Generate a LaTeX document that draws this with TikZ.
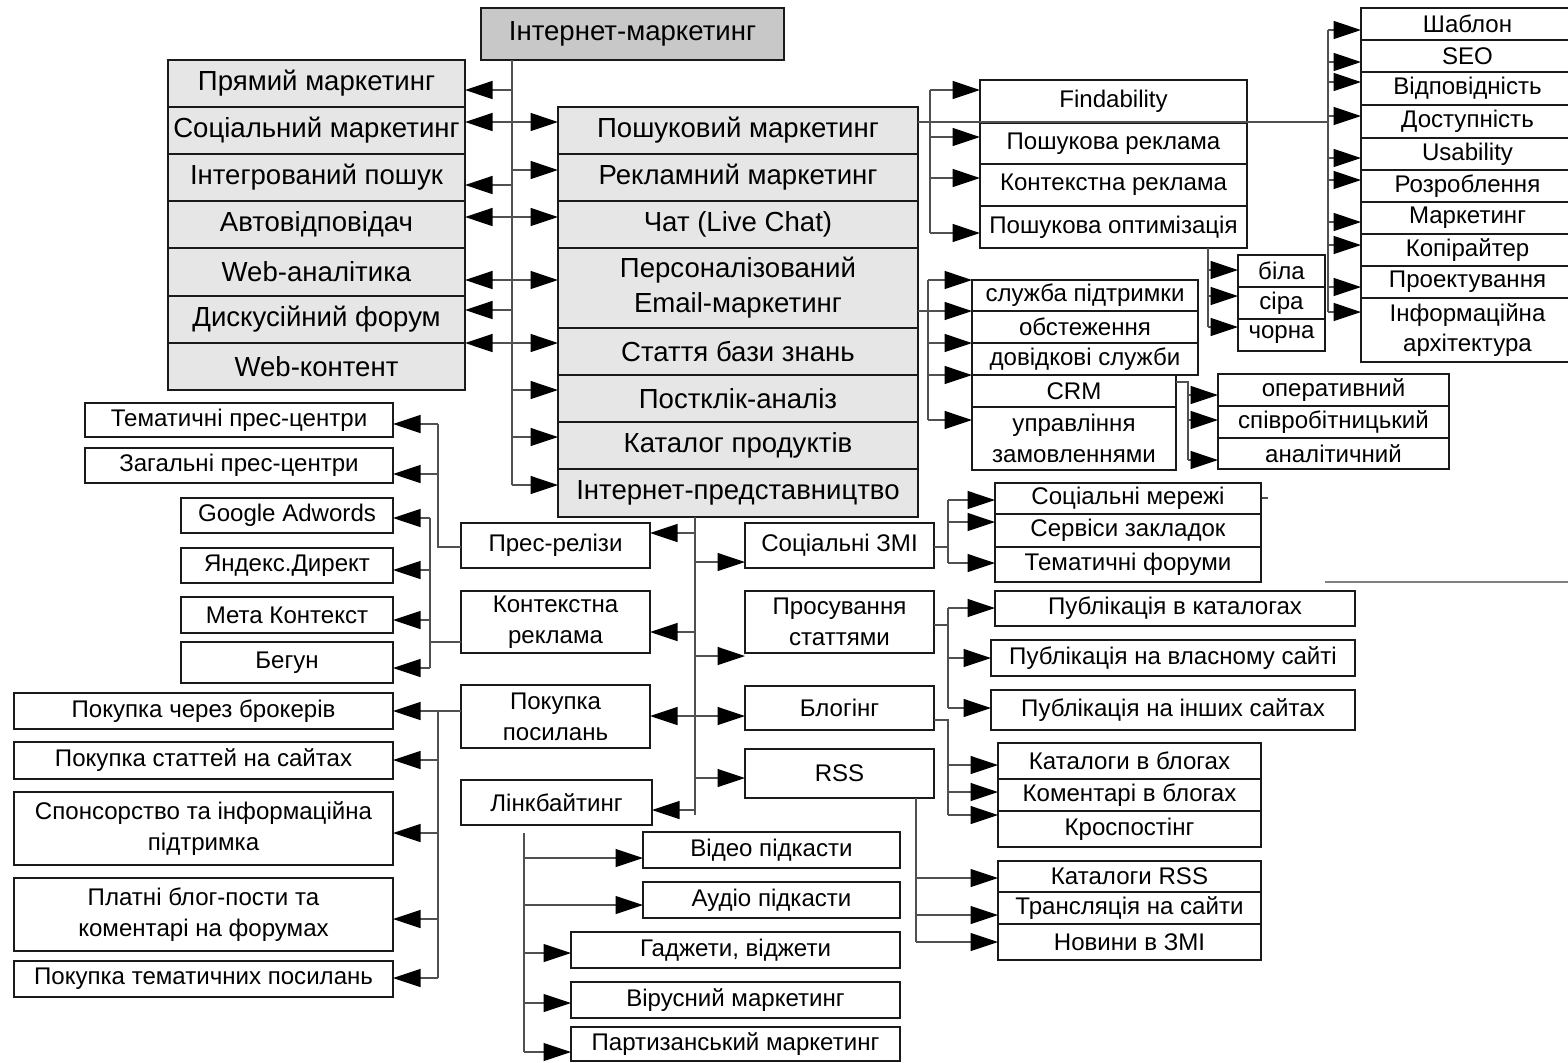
\documentclass[tikz,border=0pt]{standalone}
\usepackage{fontspec}
\setmainfont{Liberation Sans}
\usetikzlibrary{arrows.meta,calc}
\definecolor{boxgray}{HTML}{E6E6E6}
\definecolor{topgray}{HTML}{C8C8C8}
\definecolor{ink}{HTML}{1A1A1A}
\definecolor{wiregray}{HTML}{505050}
\tikzset{
  cell/.style={draw=ink,fill=white,line width=0.8pt,inner sep=0pt,outer sep=0pt,
               align=center,font=\fontsize{13.7}{17.5}\selectfont},
  bigcell/.style={cell,fill=boxgray,font=\fontsize{15.7}{20}\selectfont},
  topcell/.style={bigcell,fill=topgray},
  wire/.style={draw=wiregray,line width=0.75pt},
  arr/.style={wire,-{Triangle[length=0.55cm,width=0.36cm,color=black]}}
}
% [style]{name}{x1}{y1}{x2}{y2}{text}, pixel units
\newcommand{\cellat}[7][cell]{%
  \node[#1,minimum width={(#5-#3)*0.02cm},minimum height={(#6-#4)*0.02cm}]
    (#2) at ({(#3+#5)/2},{(#4+#6)/2}) {#7};}

\begin{document}
\begin{tikzpicture}[x=0.02cm,y=-0.02cm]
  \useasboundingbox (0,0) rectangle (1568,1062);
  % top and two main columns
  \cellat[topcell]{top}{481}{8}{784}{60}{Інтернет-маркетинг}
  \cellat[bigcell]{pm}{168}{60}{465}{107}{Прямий маркетинг}
  \cellat[bigcell]{sm}{168}{107}{465}{154}{Соціальний маркетинг}
  \cellat[bigcell]{ip}{168}{154}{465}{201}{Інтегрований пошук}
  \cellat[bigcell]{av}{168}{201}{465}{248}{Автовідповідач}
  \cellat[bigcell]{wa}{168}{248}{465}{296}{Web-аналітика}
  \cellat[bigcell]{df}{168}{296}{465}{343}{Дискусійний форум}
  \cellat[bigcell]{wc}{168}{343}{465}{390}{Web-контент}
  \cellat[bigcell]{psm}{558}{107}{918}{154}{Пошуковий маркетинг}
  \cellat[bigcell]{rm}{558}{154}{918}{201}{Рекламний маркетинг}
  \cellat[bigcell]{chat}{558}{201}{918}{248}{Чат (Live Chat)}
  \cellat[bigcell]{em}{558}{248}{918}{328}{Персоналізований\\Email-маркетинг}
  \cellat[bigcell]{kb}{558}{328}{918}{375}{Стаття бази знань}
  \cellat[bigcell]{pc}{558}{375}{918}{422}{Постклік-аналіз}
  \cellat[bigcell]{cat}{558}{422}{918}{469}{Каталог продуктів}
  \cellat[bigcell]{net}{558}{469}{918}{517}{Інтернет-представництво}
  % search marketing
  \cellat{fnd}{980}{80}{1247}{123}{Findability}
  \cellat{pr}{980}{123}{1247}{164}{Пошукова реклама}
  \cellat{kr}{980}{164}{1247}{206}{Контекстна реклама}
  \cellat{po}{980}{206}{1247}{248}{Пошукова оптимізація}
  \cellat{shab}{1361}{8}{1574}{40}{Шаблон}
  \cellat{seo}{1361}{40}{1574}{72}{SEO}
  \cellat{vid}{1361}{72}{1574}{105}{Відповідність}
  \cellat{dost}{1361}{105}{1574}{138}{Доступність}
  \cellat{usab}{1361}{138}{1574}{170}{Usability}
  \cellat{rozr}{1361}{170}{1574}{202}{Розроблення}
  \cellat{mark}{1361}{202}{1574}{234}{Маркетинг}
  \cellat{kopi}{1361}{234}{1574}{266}{Копірайтер}
  \cellat{proj}{1361}{266}{1574}{298}{Проектування}
  \cellat{ia}{1361}{298}{1574}{362}{Інформаційна\\архітектура}
  \cellat{bila}{1238}{255}{1325}{287}{біла}
  \cellat{sira}{1238}{287}{1325}{319}{сіра}
  \cellat{chorna}{1238}{319}{1325}{351}{чорна}
  % email
  \cellat{sl}{972}{280}{1198}{311}{служба підтримки}
  \cellat{obs}{972}{311}{1198}{343}{обстеження}
  \cellat{dov}{972}{343}{1198}{375}{довідкові служби}
  \cellat{crm}{972}{375}{1176}{407}{CRM}
  \cellat{uz}{972}{407}{1176}{470}{управління\\замовленнями}
  \cellat{op}{1218}{374}{1449}{406}{оперативний}
  \cellat{sp}{1218}{406}{1449}{438}{співробітницький}
  \cellat{an}{1218}{438}{1449}{469}{аналітичний}
  % internet presence
  \cellat{prel}{461}{523}{650}{568}{Прес-релізи}
  \cellat{kr2}{461}{591}{650}{653}{Контекстна\\реклама}
  \cellat{pp}{461}{685}{650}{748}{Покупка\\посилань}
  \cellat{lb}{461}{780}{652}{825}{Лінкбайтинг}
  \cellat{szmi}{745}{523}{934}{568}{Соціальні ЗМІ}
  \cellat{pst}{745}{591}{934}{653}{Просування\\статтями}
  \cellat{blog}{745}{686}{934}{730}{Блогінг}
  \cellat{rss}{745}{749}{934}{798}{RSS}
  \cellat{tpc}{85}{403}{393}{437}{Тематичні прес-центри}
  \cellat{zpc}{85}{448}{393}{483}{Загальні прес-центри}
  \cellat{ga}{181}{498}{393}{533}{Google Adwords}
  \cellat{yd}{181}{548}{393}{583}{Яндекс.Директ}
  \cellat{mk}{181}{597}{393}{633}{Мета Контекст}
  \cellat{beg}{181}{642}{393}{683}{Бегун}
  \cellat{pb}{14}{693}{393}{729}{Покупка через брокерів}
  \cellat{pss}{14}{742}{393}{779}{Покупка статтей на сайтах}
  \cellat{spon}{14}{792}{393}{865}{Спонсорство та інформаційна\\підтримка}
  \cellat{plat}{14}{878}{393}{951}{Платні блог-пости та\\коментарі на форумах}
  \cellat{ptp}{14}{961}{393}{997}{Покупка тематичних посилань}
  \cellat{vp}{643}{832}{900}{868}{Відео підкасти}
  \cellat{ap}{643}{882}{900}{918}{Аудіо підкасти}
  \cellat{gv}{571}{932}{900}{968}{Гаджети, віджети}
  \cellat{vm}{571}{982}{900}{1018}{Вірусний маркетинг}
  \cellat{partm}{571}{1027}{900}{1061}{Партизанський маркетинг}
  \cellat{smer}{995}{483}{1261}{514}{Соціальні мережі}
  \cellat{szak}{995}{514}{1261}{547}{Сервіси закладок}
  \cellat{tf}{995}{547}{1261}{582}{Тематичні форуми}
  \cellat{pk}{995}{591}{1355}{626}{Публікація в каталогах}
  \cellat{pvs}{991}{640}{1355}{676}{Публікація на власному сайті}
  \cellat{pis}{991}{690}{1355}{730}{Публікація на інших сайтах}
  \cellat{kvb}{998}{743}{1261}{779}{Каталоги в блогах}
  \cellat{kom}{998}{779}{1261}{811}{Коментарі в блогах}
  \cellat{kros}{998}{811}{1261}{847}{Кроспостінг}
  \cellat{krss}{998}{861}{1261}{892}{Каталоги RSS}
  \cellat{tns}{998}{892}{1261}{924}{Трансляція на сайти}
  \cellat{nzmi}{998}{924}{1261}{960}{Новини в ЗМІ}

  % main trunk
  \coordinate (tk) at (512,485);
  \draw[wire] (top.south -| tk) -- (tk);
  \draw[arr] (tk) -- (tk -| net.west);
  \foreach \y/\n in {90/pm,122/sm,185/ip,217/av,280/wa,310/df,343/wc}{
    \coordinate (p) at (512,\y);
    \draw[arr] (p) -- (p -| \n.east);
  }
  \foreach \y/\n in {122/psm,170/rm,217/chat,280/em,343/kb,390/pc,437/cat}{
    \coordinate (p) at (512,\y);
    \draw[arr] (p) -- (p -| \n.west);
  }

  % search marketing branches
  \coordinate (fb) at (930,122);
  \coordinate (sb) at (1328,122);
  \draw[wire] (fb -| psm.east) -- (sb);
  \draw[wire] (930,90) -- (930,233);
  \foreach \y/\n in {90/fnd,137/pr,178/kr,233/po}{
    \coordinate (p) at (930,\y);
    \draw[arr] (p) -- (p -| \n.west);
  }
  \draw[wire] (1328,30) -- (1328,312);
  \foreach \y/\n in {30/shab,62/seo,82/vid,116/dost,158/usab,180/rozr,222/mark,245/kopi,287/proj,312/ia}{
    \coordinate (p) at (1328,\y);
    \draw[arr] (p) -- (p -| \n.west);
  }
  \coordinate (ob) at (1208,327);
  \draw[wire] (po.south -| ob) -- (ob);
  \foreach \y/\n in {270/bila,296/sira,327/chorna}{
    \coordinate (p) at (1208,\y);
    \draw[arr] (p) -- (p -| \n.west);
  }

  % email branches
  \coordinate (eb) at (928,311);
  \draw[wire] (eb -| em.east) -- (eb);
  \draw[wire] (928,280) -- (928,420);
  \foreach \y/\n in {280/sl,311/obs,343/dov,375/crm,420/uz}{
    \coordinate (p) at (928,\y);
    \draw[arr] (p) -- (p -| \n.west);
  }
  \coordinate (cb) at (1188,382);
  \draw[wire] (cb -| crm.east) -- (cb) -- (1188,460);
  \foreach \y/\n in {395/op,420/sp,460/an}{
    \coordinate (p) at (1188,\y);
    \draw[arr] (p) -- (p -| \n.west);
  }

  % internet presence trunk
  \coordinate (nb) at (695,815);
  \draw[wire] (net.south -| nb) -- (nb);
  \foreach \y/\n in {533/prel,632/kr2,716/pp,810/lb}{
    \coordinate (p) at (695,\y);
    \draw[arr] (p) -- (p -| \n.east);
  }
  \foreach \y/\n in {562/szmi,656/pst,716/blog,778/rss}{
    \coordinate (p) at (695,\y);
    \draw[arr] (p) -- (p -| \n.west);
  }

  % left side branches
  \coordinate (rb) at (438,547);
  \draw[wire] (rb -| prel.west) -- (rb) -- (438,424);
  \foreach \y/\n in {424/tpc,474/zpc}{
    \coordinate (p) at (438,\y);
    \draw[arr] (p) -- (p -| \n.east);
  }
  \coordinate (kb2) at (430,642);
  \draw[wire] (kb2 -| kr2.west) -- (kb2);
  \draw[wire] (430,518) -- (430,668);
  \foreach \y/\n in {518/ga,570/yd,620/mk,668/beg}{
    \coordinate (p) at (430,\y);
    \draw[arr] (p) -- (p -| \n.east);
  }
  \coordinate (pb2) at (438,711);
  \draw[wire] (pb2 -| pp.west) -- (pb2) -- (438,978);
  \foreach \y/\n in {711/pb,760/pss,833/spon,919/plat,978/ptp}{
    \coordinate (p) at (438,\y);
    \draw[arr] (p) -- (p -| \n.east);
  }
  \draw[wire] (524,833) -- (524,1052);
  \foreach \y/\n in {858/vp,905/ap,953/gv,1003/vm,1052/partm}{
    \coordinate (p) at (524,\y);
    \draw[arr] (p) -- (p -| \n.west);
  }

  % right side branches
  \coordinate (zb) at (948,547);
  \draw[wire] (zb -| szmi.east) -- (zb);
  \draw[wire] (948,500) -- (948,563);
  \foreach \y/\n in {500/smer,522/szak,563/tf}{
    \coordinate (p) at (948,\y);
    \draw[arr] (p) -- (p -| \n.west);
  }
  \coordinate (stb) at (948,625);
  \draw[wire] (stb -| pst.east) -- (stb);
  \draw[wire] (948,608) -- (948,708);
  \foreach \y/\n in {608/pk,658/pvs,708/pis}{
    \coordinate (p) at (948,\y);
    \draw[arr] (p) -- (p -| \n.west);
  }
  \coordinate (bb) at (948,720);
  \draw[wire] (bb -| blog.east) -- (bb) -- (948,815);
  \foreach \y/\n in {765/kvb,792/kom,815/kros}{
    \coordinate (p) at (948,\y);
    \draw[arr] (p) -- (p -| \n.west);
  }
  \coordinate (xb) at (916,942);
  \draw[wire] (rss.south -| xb) -- (xb);
  \foreach \y/\n in {878/krss,915/tns,942/nzmi}{
    \coordinate (p) at (916,\y);
    \draw[arr] (p) -- (p -| \n.west);
  }

  % stray strokes
  \draw[wire] (1262,498) -- (1268,498);
  \draw[wire,draw=gray] (1325,582) -- (1568,582);
\end{tikzpicture}
\end{document}
